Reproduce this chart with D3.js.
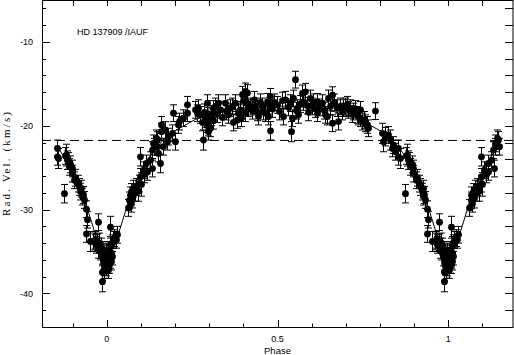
<!DOCTYPE html>
<html><head><meta charset="utf-8">
<script src="https://cdn.jsdelivr.net/npm/d3@7"></script>
<style>html,body{margin:0;padding:0;background:#fff;}svg{display:block;}</style>
</head><body>
<svg id="c" width="514" height="355"></svg>
<script>
// Observed radial velocities (phase in [0,1)), km/s, and errors
const phase = [0.000,0.002,0.004,0.006,0.008,0.009,0.010,0.012,0.015,0.018,0.022,0.026,0.030,0.003,0.007,0.011,0.014,
0.062,0.066,0.068,0.070,0.072,0.075,0.078,0.082,0.085,0.090,0.095,0.097,0.097,0.100,0.106,0.110,0.116,0.118,0.126,0.131,0.133,0.136,0.138,0.143,0.146,0.148,0.151,0.157,0.158,0.160,0.165,0.170,0.175,0.180,0.190,0.194,0.200,0.209,0.212,0.224,0.234,0.236,0.258,0.263,0.268,0.273,0.278,0.282,0.285,0.288,0.290,0.292,0.294,0.296,0.297,0.299,0.302,0.304,0.306,0.310,0.312,
0.317,0.322,0.326,0.331,0.338,0.346,0.350,0.355,0.360,0.366,0.370,0.375,0.380,0.385,0.390,0.392,0.395,0.400,0.404,0.404,0.409,0.412,0.414,0.419,0.425,0.430,0.434,0.440,0.444,0.449,0.454,0.458,0.463,0.468,0.473,0.475,0.478,0.478,0.483,0.490,0.498,0.505,0.512,0.517,0.522,0.530,0.536,0.540,0.542,0.546,0.551,0.553,0.556,0.561,0.565,0.571,0.576,0.581,0.586,0.590,0.595,0.600,0.605,0.610,0.615,0.615,0.622,0.630,0.635,0.639,0.644,0.649,0.654,0.659,0.659,0.665,0.673,0.678,0.683,0.688,0.693,0.698,0.703,0.708,0.713,0.718,0.722,0.727,0.732,0.737,0.742,0.742,0.747,0.752,0.757,0.762,0.766,0.786,
0.805,0.810,0.815,0.825,0.830,0.835,0.839,0.845,0.853,0.854,0.858,0.874,0.876,0.879,0.883,0.885,0.889,0.893,0.897,0.898,0.905,0.908,0.915,0.918,0.922,0.925,0.927,0.929,0.932,0.939,
0.938,0.941,0.952,0.960,0.965,0.966,0.968,0.972,0.973,0.975,0.978,0.980,0.983,0.985,0.987,0.987,0.987,0.989,0.990,0.992,0.994,0.996,0.998,0.993,0.997];
const rv = [-36.0,-35.4,-36.6,-34.8,-35.8,-32.1,-34.2,-35.2,-34.0,-33.6,-33.4,-33.6,-33.0,-37.2,-36.6,-36.2,-35.6,
-29.8,-28.9,-28.3,-29.3,-27.9,-28.6,-27.5,-28.0,-27.3,-27.8,-26.9,-26.1,-23.7,-27.0,-25.3,-25.8,-24.5,-25.5,-24.1,-22.9,-25.1,-22.1,-22.5,-21.5,-21.7,-22.5,-23.3,-24.5,-20.7,-19.9,-22.5,-20.5,-21.9,-21.3,-20.9,-18.5,-21.9,-19.9,-19.5,-19.1,-18.5,-17.5,-18.1,-18.5,-17.9,-18.7,-19.6,-21.7,-18.4,-19.2,-19.8,-17.3,-18.8,-20.2,-20.7,-19.5,-20.3,-18.6,-19.0,-18.0,-19.4,
-17.7,-18.6,-17.3,-18.1,-19.0,-17.3,-18.3,-18.7,-17.9,-17.7,-19.6,-17.3,-19.3,-18.5,-18.1,-19.1,-16.3,-17.0,-15.9,-18.5,-17.3,-16.1,-17.9,-17.7,-18.2,-16.9,-17.7,-18.4,-18.9,-17.2,-17.7,-18.3,-18.5,-17.15,-18.9,-17.6,-16.55,-20.6,-18.0,-17.2,-17.5,-18.3,-17.0,-18.9,-16.9,-17.8,-17.3,-20.7,-19.1,-16.75,-14.5,-18.2,-17.9,-18.7,-17.4,-16.15,-17.15,-15.95,-17.6,-18.4,-16.75,-17.7,-17.2,-18.0,-18.5,-17.15,-17.8,-17.3,-18.2,-18.7,-18.9,-16.75,-17.7,-16.35,-19.7,-17.2,-17.9,-19.5,-17.7,-18.3,-17.9,-17.7,-17.5,-18.1,-17.9,-18.6,-18.3,-18.0,-18.7,-18.9,-18.1,-19.1,-19.5,-19.3,-19.7,-19.9,-20.3,-18.25,
-20.9,-21.9,-21.3,-21.1,-21.7,-22.7,-22.3,-23.1,-23.7,-22.7,-23.9,-28.1,-23.6,-23.5,-24.1,-24.2,-24.9,-24.6,-25.1,-25.7,-26.5,-26.2,-26.9,-27.3,-27.85,-27.5,-28.45,-28.25,-28.85,-29.95,
-32.9,-31.2,-33.8,-33.8,-33.6,-34.0,-34.2,-33.9,-31.5,-34.6,-34.0,-35.0,-34.4,-35.6,-34.8,-37.5,-38.6,-36.2,-35.3,-36.8,-35.8,-36.4,-35.0,-37.2,-36.9];
const err = [1.0,1.1,1.0,1.0,1.2,1.3,1.0,1.0,1.0,1.0,1.0,1.0,1.0,1.0,1.0,1.0,1.0,
1.0,1.0,1.0,1.0,1.0,1.2,1.0,1.0,1.0,1.2,1.0,1.0,1.1,1.4,1.0,1.0,1.0,1.0,1.0,1.0,1.0,1.0,1.0,1.0,1.0,1.0,1.0,1.1,1.0,1.0,1.0,1.0,1.0,1.0,1.0,1.0,1.0,1.0,1.0,1.0,1.0,1.0,1.0,1.0,1.0,1.0,1.0,1.2,1.0,1.0,1.0,1.0,1.0,1.0,1.0,1.0,1.0,1.0,1.0,1.0,1.0,
1.0,1.0,1.0,1.0,1.0,1.0,1.0,1.0,1.0,1.0,1.0,1.0,1.0,1.0,1.0,1.0,1.0,1.0,1.0,1.0,1.0,1.0,1.0,1.0,1.0,1.0,1.0,1.0,1.0,1.0,1.0,1.0,1.0,1.0,1.0,1.0,1.0,1.1,1.0,1.0,1.0,1.0,1.0,1.0,1.0,1.0,1.0,1.2,1.0,1.0,1.0,1.0,1.0,1.0,1.0,1.0,1.0,1.0,1.0,1.0,1.0,1.0,1.0,1.0,1.0,1.0,1.0,1.0,1.0,1.0,1.0,1.0,1.0,1.0,1.0,1.0,1.0,1.0,1.0,1.0,1.0,1.0,1.0,1.0,1.0,1.0,1.0,1.0,1.0,1.0,1.0,1.0,1.0,1.0,1.0,1.0,1.0,1.0,1.2,1.2,
1.1,1.0,1.2,1.0,1.0,1.0,1.0,1.0,1.2,1.1,1.0,1.3,1.1,1.0,1.0,1.0,1.0,1.0,1.0,1.0,1.0,1.0,1.0,1.0,1.0,1.0,1.0,1.0,1.0,1.0,
1.2,1.0,1.0,1.0,1.0,1.0,1.0,1.2,1.2,1.0,1.0,1.1,1.0,1.0,1.2,1.0,1.2,1.0,1.0,1.1,1.0,1.0,1.0,1.0,1.0];

// Orbit model curve (phase, km/s)
const modelPhase = [0,0.0129,0.0262,0.0404,0.0559,0.0731,0.0922,0.1137,0.1376,0.1641,0.1931,0.2589,0.3337,0.4150,0.5,0.5850,0.6663,0.7411,0.8069,0.8359,0.8624,0.8863,0.9078,0.9269,0.9441,0.9596,0.9738,0.9871,1.0];
const modelRV = [-35.53,-35.09,-33.85,-32.06,-30.04,-27.99,-26.09,-24.41,-22.97,-21.75,-20.74,-19.25,-18.31,-17.80,-17.63,-17.80,-18.31,-19.25,-20.74,-21.75,-22.97,-24.41,-26.09,-27.99,-30.04,-32.06,-33.85,-35.09,-35.53];

const gammaVel = -21.75;
const shownPhase = [-0.15, 1.15];
const xMajor = [0, 0.5, 1];
const xMajorLabels = ["0", "0.5", "1"];
const xMinor = [-0.1,0.1,0.2,0.3,0.4,0.6,0.7,0.8,0.9,1.1];
const yMajor = [-10,-20,-30,-40];
const yMajorLabels = ["-10","-20","-30","-40"];
const yMinor = [-42,-38,-36,-34,-32,-28,-26,-24,-22,-18,-16,-14,-12,-8,-6];
const titleText = "HD 137909 /IAUF";
const xLabel = "Phase";
const yLabel = "Rad. Vel. (km/s)";

const L = 42, R = 513, T = 0, B = 327;
const x = d3.scaleLinear().domain([-0.19, 1.19]).range([L, R]);
const y = d3.scaleLinear().domain([-44, -5]).range([B, T]);

const svg = d3.select("#c");
const defs = svg.append("defs");
defs.append("clipPath").attr("id","clip")
  .append("rect").attr("x",L).attr("y",T).attr("width",R-L).attr("height",B-T);
defs.append("clipPath").attr("id","clipm")
  .append("rect").attr("x",x(shownPhase[0])).attr("y",T)
  .attr("width",x(shownPhase[1])-x(shownPhase[0])).attr("height",B-T);
const g = svg.append("g").attr("clip-path","url(#clip)");

// dashed systemic velocity
g.append("line").attr("x1",L).attr("x2",R).attr("y1",y(gammaVel)).attr("y2",y(gammaVel))
  .attr("stroke","#000").attr("stroke-width",1).attr("stroke-dasharray","9,5");

// model line, repeated each cycle
const line = d3.line().x(d => x(d[0])).y(d => y(d[1]));
const gm = g.append("g").attr("clip-path","url(#clipm)");
[-1,0,1].forEach(k => {
  const pts = modelPhase.map((p,i) => [p+k, modelRV[i]]);
  gm.append("path").attr("d", line(pts)).attr("fill","none").attr("stroke","#000").attr("stroke-width",1);
});

// observations repeated at phase-1, phase, phase+1
const obs = [];
[-1,0,1].forEach(k => phase.forEach((p,i) => {
  const q = p + k;
  if (q >= shownPhase[0] && q <= shownPhase[1]) obs.push({p:q, v:rv[i], e:err[i]});
}));
const eb = g.append("g").attr("stroke","#000").attr("stroke-width",1);
obs.forEach(d => {
  const cx = Math.round(x(d.p)) + 0.5;
  const y1 = y(d.v + d.e), y2 = y(d.v - d.e);
  eb.append("line").attr("x1",cx).attr("x2",cx).attr("y1",y1).attr("y2",y2);
  eb.append("line").attr("x1",cx-3.5).attr("x2",cx+3.5).attr("y1",y1).attr("y2",y1);
  eb.append("line").attr("x1",cx-3.5).attr("x2",cx+3.5).attr("y1",y2).attr("y2",y2);
});
g.append("g").selectAll("circle").data(obs).join("circle")
  .attr("cx", d => Math.round(x(d.p)) + 0.5).attr("cy", d => y(d.v)).attr("r", 3.4).attr("fill","#000");

// frame
svg.append("rect").attr("x",L+0.5).attr("y",T+0.5).attr("width",R-L-0.5).attr("height",B-T)
  .attr("fill","none").attr("stroke","#000").attr("stroke-width",1);

const tk = svg.append("g").attr("stroke","#000").attr("stroke-width",1);
function xt(v, lenB, lenT){
  const px = Math.round(x(v)) + 0.5;
  tk.append("line").attr("x1",px).attr("x2",px).attr("y1",B).attr("y2",B-lenB);
  tk.append("line").attr("x1",px).attr("x2",px).attr("y1",T).attr("y2",T+lenT);
}
function yt(v, lenL, lenR){
  const py = Math.round(y(v)) + 0.5;
  tk.append("line").attr("x1",L).attr("x2",L+lenL).attr("y1",py).attr("y2",py);
  tk.append("line").attr("x1",R).attr("x2",R-lenR).attr("y1",py).attr("y2",py);
}
xMajor.forEach(v => xt(v, 7, 6));
xMinor.forEach(v => xt(v, 3.5, 6));
yMajor.forEach(v => yt(v, 8, 8));
yMinor.forEach(v => yt(v, 4, 8));

const font = "Liberation Sans, Arial, sans-serif";
svg.append("g").selectAll("text").data(xMajor).join("text")
  .attr("x", d => x(d)).attr("y", 342).attr("text-anchor","middle")
  .attr("font-family",font).attr("font-size",9).text((d,i) => xMajorLabels[i]);
svg.append("g").selectAll("text").data(yMajor).join("text")
  .attr("x", 33).attr("y", d => y(d) + 3.3).attr("text-anchor","end")
  .attr("font-family",font).attr("font-size",9).text((d,i) => yMajorLabels[i]);

svg.append("text").attr("x",77).attr("y",35.2).attr("font-family",font).attr("font-size",9)
  .text(titleText);
svg.append("text").attr("x",(L+R)/2).attr("y",354).attr("text-anchor","middle")
  .attr("font-family",font).attr("font-size",9.5).text(xLabel);
svg.append("text").attr("transform","translate(10,164) rotate(-90)").attr("text-anchor","middle")
  .attr("font-family","Liberation Serif, Times New Roman, serif").attr("font-size",11)
  .attr("textLength",104).attr("lengthAdjust","spacing").text(yLabel);
</script>
</body></html>
